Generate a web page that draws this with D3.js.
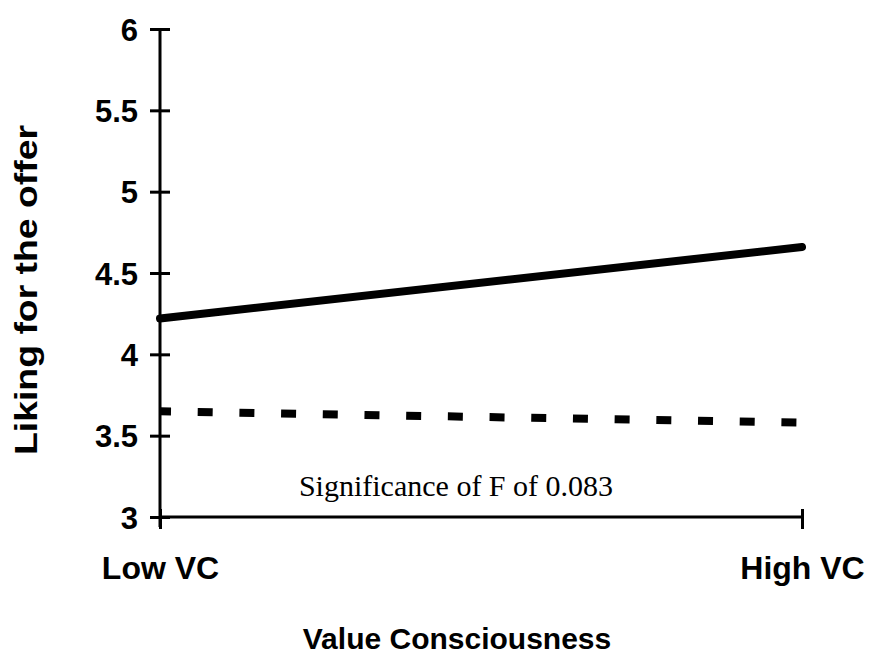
<!DOCTYPE html>
<html>
<head>
<meta charset="utf-8">
<script src="https://cdn.jsdelivr.net/npm/d3@7"></script>
<style>
  body { margin: 0; background: #fff; }
  svg { display: block; }
  .axis path, .axis line { stroke: #000; stroke-width: 3px; }
  .axis text { font-family: 'Liberation Sans', Arial, sans-serif; font-weight: bold; font-size: 31px; fill: #000; }
</style>
</head>
<body>
<svg id="chart" width="872" height="660"></svg>
<script>
// data
const categories = ['Low VC', 'High VC'];
const solid_values = [4.22, 4.66];
const dashed_values = [3.65, 3.58];
const y_ticks = [3, 3.5, 4, 4.5, 5, 5.5, 6];
const y_tick_labels = ['3', '3.5', '4', '4.5', '5', '5.5', '6'];
const annotation = 'Significance of F of 0.083';
const x_title = 'Value Consciousness';
const y_title = 'Liking for the offer';

const svg = d3.select('#chart');
const margin = { top: 29, right: 70, bottom: 143, left: 160 };
const width = +svg.attr('width') - margin.left - margin.right;
const height = +svg.attr('height') - margin.top - margin.bottom;

const plot = svg.append('g')
  .attr('transform', `translate(${[margin.left, margin.top]})`);

const x = d3.scalePoint().domain(categories).range([0, width]);
const y = d3.scaleLinear().domain([3, 6]).range([height, 0]);

// y axis, ticks cross the line
const y_axis = plot.append('g')
  .attr('class', 'axis')
  .call(d3.axisLeft(y)
    .tickValues(y_ticks)
    .tickFormat((d, i) => y_tick_labels[i])
    .tickSize(10)
    .tickSizeOuter(0));
y_axis.select('.domain').attr('d', `M0,0V${height + 10}`);
y_axis.selectAll('.tick line').attr('x1', -10).attr('x2', 10);
y_axis.selectAll('.tick text').attr('x', -22).attr('dy', '0.36em');

// x axis
const x_axis = plot.append('g')
  .attr('class', 'axis')
  .attr('transform', `translate(0,${height})`)
  .call(d3.axisBottom(x).tickSize(10).tickSizeOuter(0));
x_axis.select('.domain').attr('d', `M0,0H${width}`);
x_axis.selectAll('.tick line').attr('y1', -8).attr('y2', 12);
x_axis.selectAll('.tick text')
  .attr('y', 62)
  .attr('dy', 0)
  .style('font-size', '32px');

const line = d3.line()
  .x((d, i) => x(categories[i]))
  .y(d => y(d));

plot.append('path')
  .datum(solid_values)
  .attr('d', line)
  .attr('fill', 'none')
  .attr('stroke', '#000')
  .attr('stroke-width', 8)
  .attr('stroke-linecap', 'round');

plot.append('path')
  .datum(dashed_values)
  .attr('d', line)
  .attr('fill', 'none')
  .attr('stroke', '#000')
  .attr('stroke-width', 8)
  .attr('stroke-dasharray', '15 26.7')
  .attr('stroke-dashoffset', 4);

// annotation
plot.append('text')
  .attr('x', (x(categories[0]) + x(categories[1])) / 2 - 25)
  .attr('y', y(3) - 21)
  .attr('text-anchor', 'middle')
  .style('font-family', "'Liberation Serif', 'Times New Roman', serif")
  .style('font-size', '30px')
  .text(annotation);

// titles
svg.append('text')
  .attr('x', margin.left + width / 2 - 24)
  .attr('y', 649)
  .attr('text-anchor', 'middle')
  .style('font-family', "'Liberation Sans', Arial, sans-serif")
  .style('font-weight', 'bold')
  .style('font-size', '30px')
  .text(x_title);

svg.append('text')
  .attr('transform', `translate(37,290) rotate(-90)`)
  .attr('text-anchor', 'middle')
  .attr('textLength', 330)
  .attr('lengthAdjust', 'spacingAndGlyphs')
  .style('font-family', "'Liberation Sans', Arial, sans-serif")
  .style('font-weight', 'bold')
  .style('font-size', '32px')
  .text(y_title);
</script>
</body>
</html>
